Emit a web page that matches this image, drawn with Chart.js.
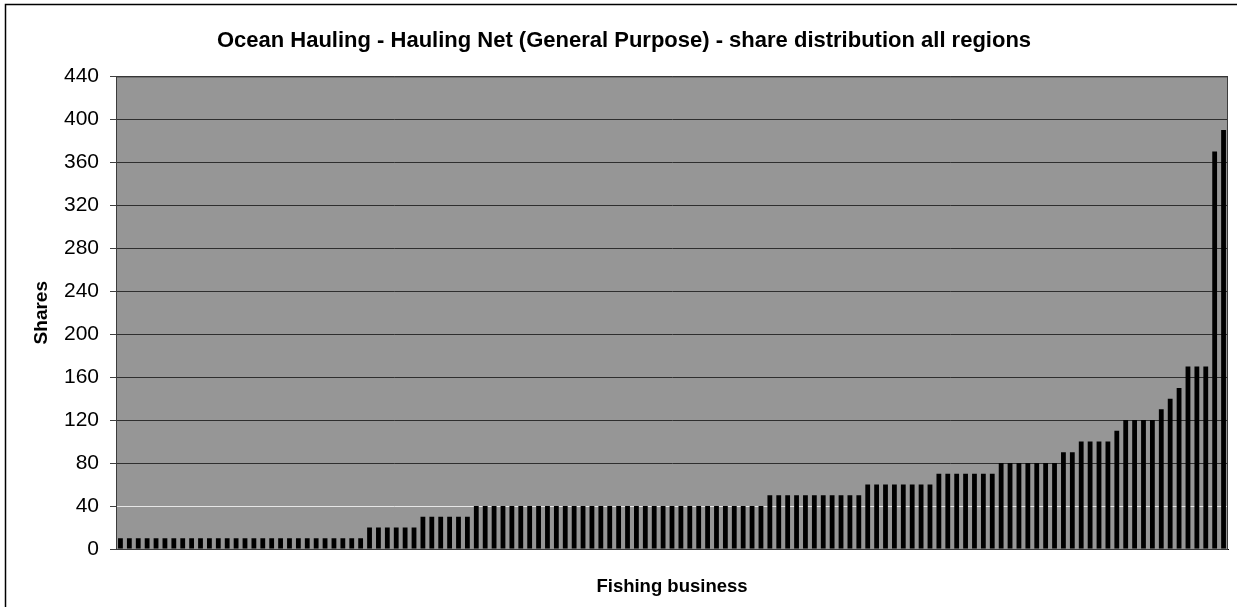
<!DOCTYPE html>
<html>
<head>
<meta charset="utf-8">
<title>Ocean Hauling share distribution</title>
<script src="https://cdn.jsdelivr.net/npm/chart.js"></script>
<style>
  html, body { margin: 0; padding: 0; background: #fff; }
  #wrap { width: 1247px; height: 607px; position: relative; }
</style>
</head>
<body>
<div id="wrap"><canvas id="shareChart"></canvas></div>
<script>
// shares held per fishing business, sorted smallest to largest
const shares = [
  10, 10, 10, 10, 10, 10, 10, 10, 10, 10, 10, 10, 10, 10,
  10, 10, 10, 10, 10, 10, 10, 10, 10, 10, 10, 10, 10, 10,
  20, 20, 20, 20, 20, 20,
  30, 30, 30, 30, 30, 30,
  40, 40, 40, 40, 40, 40, 40, 40, 40, 40, 40,
  40, 40, 40, 40, 40, 40, 40, 40, 40, 40, 40,
  40, 40, 40, 40, 40, 40, 40, 40, 40, 40, 40,
  50, 50, 50, 50, 50, 50, 50, 50, 50, 50, 50,
  60, 60, 60, 60, 60, 60, 60, 60,
  70, 70, 70, 70, 70, 70, 70,
  80, 80, 80, 80, 80, 80, 80,
  90, 90,
  100, 100, 100, 100,
  110,
  120, 120, 120, 120,
  130, 140, 150,
  170, 170, 170,
  370, 390
];
// one category per business (labels are not shown on the axis)
const businesses = shares.map((s, i) => 'Business ' + (i + 1));
const yTicks = [0, 40, 80, 120, 160, 200, 240, 280, 320, 360, 400, 440];

const FONT = "'Liberation Sans', Arial, sans-serif";

// white page, frame lines and the grey plot area behind everything
const backdrop = {
  id: 'backdrop',
  beforeDraw(chart) {
    const {ctx, chartArea: a} = chart;
    ctx.save();
    ctx.fillStyle = '#ffffff';
    ctx.fillRect(0, 0, chart.width, chart.height);
    ctx.strokeStyle = '#000';
    ctx.lineWidth = 1.5;
    ctx.beginPath();
    ctx.moveTo(5.5, chart.height);
    ctx.lineTo(5.5, 4.5);
    ctx.lineTo(1237, 4.5);
    ctx.stroke();
    ctx.fillStyle = '#969696';
    ctx.fillRect(a.left, a.top, a.right - a.left, a.bottom - a.top);
    ctx.restore();
  },
  afterDatasetsDraw(chart) {
    const {ctx, chartArea: a} = chart;
    ctx.save();
    ctx.strokeStyle = '#3c3c3c';
    ctx.lineWidth = 1;
    ctx.strokeRect(a.left + 0.5, a.top + 0.5, a.right - a.left - 1, a.bottom - a.top);
    ctx.restore();
  }
};

const ctx = document.getElementById('shareChart').getContext('2d');
const myChart = new Chart(ctx, {
  type: 'bar',
  data: {
    labels: businesses,
    datasets: [{
      label: 'Shares',
      data: shares,
      backgroundColor: '#000000',
      borderWidth: 0,
      barPercentage: 0.54,
      categoryPercentage: 1.0
    }]
  },
  options: {
    responsive: true,
    maintainAspectRatio: false,
    animation: false,
    layout: { padding: { left: 20, right: 19, top: 0, bottom: 0 } },
    plugins: {
      legend: { display: false },
      tooltip: { enabled: false },
      title: {
        display: true,
        text: 'Ocean Hauling - Hauling Net (General Purpose) - share distribution all regions',
        color: '#000',
        font: { family: FONT, size: 22, weight: 'bold' },
        padding: { top: 28, bottom: 22 }
      }
    },
    scales: {
      x: {
        grid: { display: false },
        border: { display: true, color: '#000', width: 1 },
        ticks: { display: false },
        title: {
          display: true,
          text: 'Fishing business',
          color: '#000',
          font: { family: FONT, size: 18.5, weight: 'bold' },
          padding: { top: 0, bottom: 9 }
        },
        afterFit(scale) { scale.height = 58; }
      },
      y: {
        min: 0,
        max: 440,
        afterBuildTicks(scale) {
          scale.ticks = yTicks.map(v => ({ value: v }));
        },
        grid: {
          color: c => (c.tick && c.tick.value === 40) ? '#e6e6e6' : (c.tick && c.tick.value === 0 ? '#000' : '#2e2e2e'),
          lineWidth: 1,
          drawTicks: true,
          tickLength: 6,
          tickColor: '#404040'
        },
        border: { display: true, color: '#3c3c3c', width: 1 },
        ticks: {
          color: '#000',
          padding: 11,
          font: { family: FONT, size: 21 }
        },
        title: {
          display: true,
          text: 'Shares',
          color: '#000',
          font: { family: FONT, size: 19, weight: 'bold' },
          padding: { top: 10, bottom: 0 }
        },
        afterFit(scale) { scale.width = 96; }
      }
    }
  },
  plugins: [backdrop]
});
</script>
</body>
</html>
